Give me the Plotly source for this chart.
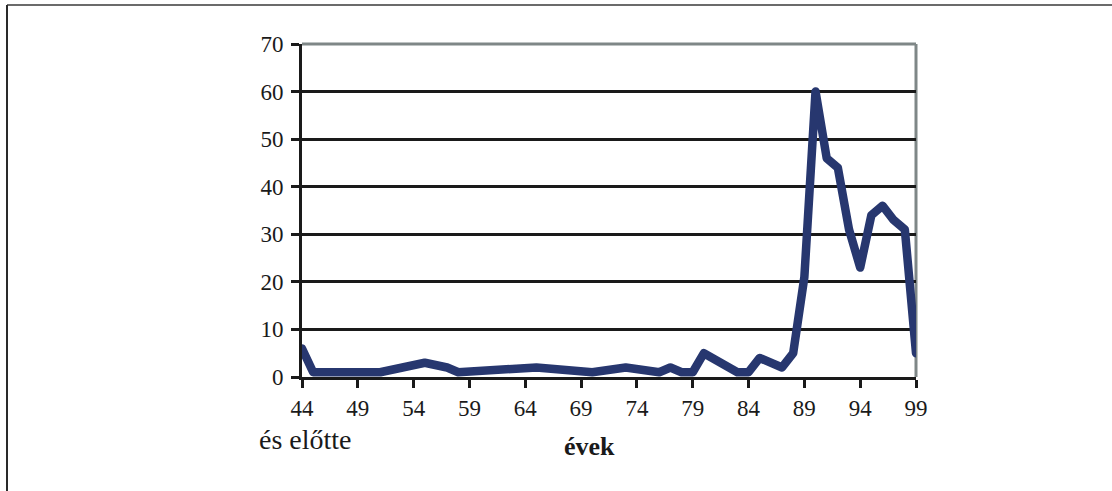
import plotly.graph_objects as go

years = [44, 45, 51, 55, 57, 58, 65, 70, 73, 76, 77, 78, 79, 80, 83, 84, 85, 87, 88,
         89, 90, 91, 92, 93, 94, 95, 96, 97, 98, 99]
values = [6, 1, 1, 3, 2, 1, 2, 1, 2, 1, 2, 1, 1, 5, 1, 1, 4, 2, 5,
          21, 60, 46, 44, 31, 23, 34, 36, 33, 31, 5]
x_ticks = [44, 49, 54, 59, 64, 69, 74, 79, 84, 89, 94, 99]
y_ticks = [0, 10, 20, 30, 40, 50, 60, 70]
x_title = "évek"
first_label_note = "és előtte"

W, H = 1112, 491
L, R, T, B = 302, 916, 44, 377
pw, ph = R - L, B - T

def px(xp):
    return (xp - L) / pw

def py(yp):
    return (B - yp) / ph

font = dict(family="Liberation Serif", size=23, color="#1a1a1a")
note_font = dict(family="Liberation Serif", size=28, color="#1a1a1a")
title_font = dict(family="Liberation Serif", size=26, color="#1a1a1a")

fig = go.Figure()
fig.add_trace(go.Scatter(
    x=years, y=values, mode="lines",
    line=dict(color="#27376f", width=8.5),
    cliponaxis=False, showlegend=False, hoverinfo="x+y",
))

fig.update_layout(
    width=W, height=H,
    margin=dict(l=L, r=W - R, t=T, b=H - B),
    paper_bgcolor="white", plot_bgcolor="white",
    font=font,
    showlegend=False,
    xaxis=dict(
        range=[44, 99], tickmode="array", tickvals=x_ticks,
        ticktext=[str(v) for v in x_ticks],
        showgrid=False, zeroline=False,
        showline=True, linecolor="#1a1a1a", linewidth=3,
        ticks="outside", ticklen=8, tickwidth=3, tickcolor="#1a1a1a",
        tickfont=font,
    ),
    yaxis=dict(
        range=[0, 70], tickmode="array", tickvals=y_ticks,
        showgrid=True, gridcolor="#1a1a1a", gridwidth=2.5,
        zeroline=False,
        showline=True, linecolor="#1a1a1a", linewidth=3,
        ticks="outside", ticklen=8, tickwidth=3, tickcolor="#1a1a1a",
        tickfont=font, ticklabelstandoff=3,
    ),
    shapes=[
        dict(type="line", xref="paper", yref="paper", x0=0, x1=1, y0=1, y1=1,
             line=dict(color="#7f8787", width=3), layer="above"),
        dict(type="line", xref="paper", yref="paper", x0=1, x1=1, y0=0, y1=1,
             line=dict(color="#7f8787", width=3), layer="below"),
        dict(type="line", xref="paper", yref="paper", x0=px(7), x1=px(1113), y0=py(5), y1=py(5),
             line=dict(color="#6b6b6b", width=2)),
        dict(type="line", xref="paper", yref="paper", x0=px(7), x1=px(7), y0=py(5), y1=py(492),
             line=dict(color="#2a2a2a", width=2)),
    ],
    annotations=[
        dict(text=first_label_note, xref="paper", yref="paper", x=px(257), y=py(439),
             xanchor="left", yanchor="middle", showarrow=False, font=note_font),
        dict(text="<b>" + x_title + "</b>", xref="paper", yref="paper", x=px(589), y=py(446),
             xanchor="center", yanchor="middle", showarrow=False, font=title_font),
    ],
)

post = """
document.body.style.margin='0px';
document.body.style.overflow='hidden';
function fixLines(){
  document.querySelectorAll('g.plot, .scatterlayer, .scatterlayer .trace, .scatterlayer .lines, .scatterlayer path.js-line')
    .forEach(function(e){ e.removeAttribute('clip-path'); e.style.clipPath=''; });
  document.querySelectorAll('.scatterlayer path.js-line').forEach(function(p){
    p.style.strokeLinejoin='round'; p.style.strokeLinecap='round';
  });
}
fixLines();
setTimeout(fixLines, 0);
setTimeout(fixLines, 100);
setTimeout(fixLines, 400);
var gdEl = document.getElementById('{plot_id}');
if (gdEl && gdEl.on) { gdEl.on('plotly_afterplot', fixLines); }
"""
fig.write_html("out.html", config={"displayModeBar": False}, post_script=post)
